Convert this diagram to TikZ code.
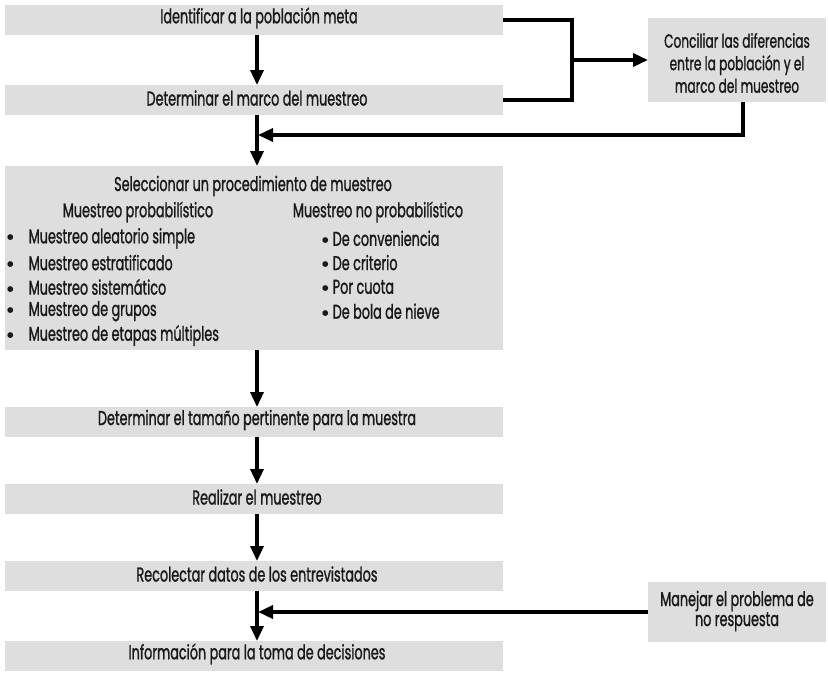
\documentclass[tikz,border=0pt]{standalone}
\usepackage{fontspec}
\setmainfont{Poppins}[FakeStretch=0.64, FakeBold=1.1]
\newfontfamily\dotfont{DejaVu Sans}
\usetikzlibrary{arrows.meta}

\newcommand{\itemdot}{\raisebox{3.6pt}{\dotfont\fontsize{7.5}{8}\selectfont ●}}

\tikzset{
  panel/.style={fill=black!13, inner sep=0pt, outer sep=0pt, anchor=center},
  stage/.style={panel, minimum width=498pt, minimum height=30pt},
  sidebox/.style={panel, minimum width=178pt},
  label/.style={inner sep=0pt, font=\fontsize{20}{24}\selectfont, text=black!90},
  flow/.style={line width=3.4pt, -{Triangle[length=15pt,width=13pt]}},
  link/.style={line width=3.4pt},
}

\begin{document}
\begin{tikzpicture}[x=1pt,y=-1pt]
\useasboundingbox (0,0) rectangle (828,688);

% main column of stages
\node[stage] (ident) at (254,20) {};
\node[label] (identT) at (259,18) {Identificar a la población meta};
\node[stage] (marco) at (254,100) {};
\node[label] (marcoT) at (257,98) {Determinar el marco del muestreo};

\node[stage, minimum height=184pt] (selec) at (254,258) {};
\node[label] (selecT) at (253,186) {Seleccionar un procedimiento de muestreo};
\node[label] (probT) at (138,212) {Muestreo probabilístico};
\node[label] (noprobT) at (378,212) {Muestreo no probabilístico};
\foreach \t [count=\i] in {Muestreo aleatorio simple, Muestreo estratificado,
    Muestreo sistemático, Muestreo de grupos, Muestreo de etapas múltiples}
  \node[label, anchor=west] (prob\i) at (7,214+24.3*\i) {\itemdot\hspace{15pt}\t};
\foreach \t [count=\i] in {De conveniencia, De criterio, Por cuota, De bola de nieve}
  \node[label, anchor=west] (noprob\i) at (322,214+24.3*\i) {\itemdot\hspace{4pt}\t};

\node[stage] (tam) at (254,422) {};
\node[label] (tamT) at (257,420) {Determinar el tamaño pertinente para la muestra};
\node[stage] (real) at (254,499) {};
\node[label] (realT) at (257,497) {Realizar el muestreo};
\node[stage] (recol) at (254,576) {};
\node[label] (recolT) at (257,574) {Recolectar datos de los entrevistados};
\node[stage] (info) at (254,656) {};
\node[label] (infoT) at (257,654) {Información para la toma de decisiones};

% side boxes
\node[sidebox, minimum height=84pt] (conc) at (737,60) {};
\node[label, align=center, font=\fontsize{19}{22.5}\selectfont] (concT) at (737,63)
  {Conciliar las diferencias\\entre la población y el\\marco del muestreo};
\node[sidebox, minimum height=60pt] (manej) at (737,612) {};
\node[label, align=center, font=\fontsize{20}{20}\selectfont] (manejT) at (737,611)
  {Manejar el problema de\\no respuesta};

% connectors
\coordinate (br) at (572,60);
\draw[flow] (ident.south -| 257,0) -- (marco.north -| 257,0);
\draw[link] (ident.east) -- (ident.east -| br) -- (marco.east -| br) -- (marco.east);
\draw[flow] (br) -- (conc.west);
\draw[flow] (conc.south -| 743,0) |- (258,135);
\draw[flow] (marco.south -| 257,0) -- (selec.north -| 257,0);
\draw[flow] (selec.south -| 257,0) -- (tam.north -| 257,0);
\draw[flow] (tam.south -| 257,0) -- (real.north -| 257,0);
\draw[flow] (real.south -| 257,0) -- (recol.north -| 257,0);
\draw[flow] (recol.south -| 257,0) -- (info.north -| 257,0);
\draw[flow] (manej.west) -- (258,612);
\end{tikzpicture}
\end{document}
